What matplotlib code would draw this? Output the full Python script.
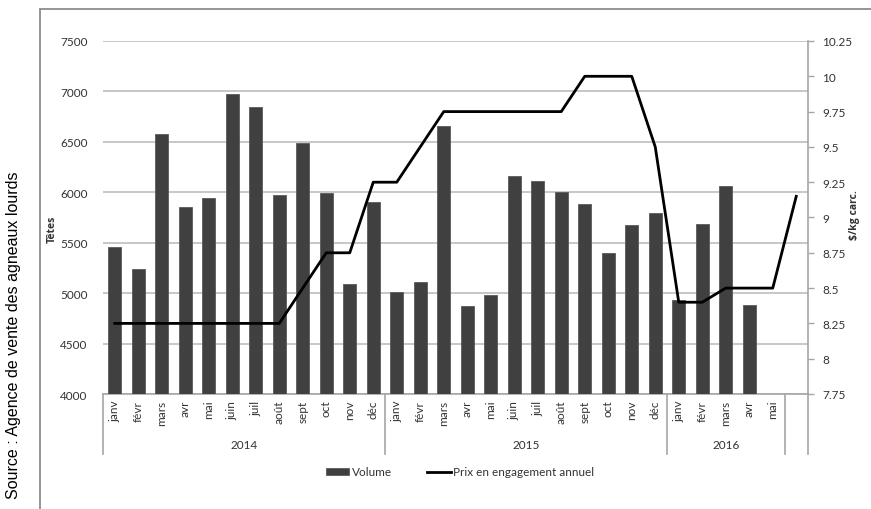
import numpy as np
import matplotlib
matplotlib.use("Agg")
import matplotlib.pyplot as plt
from matplotlib.patches import Rectangle
from matplotlib.transforms import blended_transform_factory

# Données mensuelles (2014 à mai 2016, plus un mois vide en fin d'axe)
mois = ["janv", "févr", "mars", "avr", "mai", "juin", "juil", "août",
        "sept", "oct", "nov", "déc"]
etiquettes = mois + mois + mois[:5] + [""]
annees = ["2014", "2015", "2016"]

volume = [5460, 5240, 6580, 5850, 5940, 6970, 6850, 5970, 6490, 5990, 5095, 5900,
          5015, 5110, 6660, 4875, 4980, 6165, 6110, 6000, 5880, 5395, 5680, 5795,
          4930, 5685, 6065, 4880, np.nan, np.nan]
prix = [8.25, 8.25, 8.25, 8.25, 8.25, 8.25, 8.25, 8.25, 8.5, 8.75, 8.75, 9.25,
        9.25, 9.5, 9.75, 9.75, 9.75, 9.75, 9.75, 9.75, 10.0, 10.0, 10.0, 9.5,
        8.4, 8.4, 8.5, 8.5, 8.5, 9.15]

gris_txt = "#333333"
gris_ax = "#a6a6a6"
police = ["Lato", "DejaVu Sans"]
plt.rcParams["font.family"] = police
taille = 8.5

fig = plt.figure(figsize=(8.71, 5.10), dpi=100)
# cadre du graphique
fig.patches.append(Rectangle((40 / 871, -0.1), 1.2, 1 - 10 / 510 + 0.1,
                             transform=fig.transFigure, fill=False,
                             edgecolor="#8c8c8c", linewidth=1.3))

ax = fig.add_axes([103 / 871, 1 - 395 / 510, 705 / 871, 353 / 510])
x = np.arange(len(etiquettes))
ax.bar(x, volume, width=0.55, color="#404040", edgecolor="#5a5a5a",
       linewidth=0.6, zorder=3, label="Volume")
ax.set_ylim(4000, 7500)
ax.set_xlim(-0.5, len(etiquettes) - 0.5)
ax.set_yticks(np.arange(4000, 7501, 500))
ax.yaxis.grid(True, color="#bdbdbd", linewidth=1.2, zorder=0)
ax.tick_params(axis="y", length=0, pad=11, labelsize=taille, labelcolor=gris_txt)
ax.set_xticks([])
for s in ["top", "left", "right"]:
    ax.spines[s].set_visible(False)
ax.spines["bottom"].set_color(gris_ax)
ax.spines["bottom"].set_linewidth(1.2)
ax.set_ylabel("Têtes", fontsize=7.5, fontweight="bold", color=gris_txt,
              family="Open Sans")
ax.yaxis.set_label_coords(-0.064, 0.47)

ax2 = ax.twinx()
ax2.plot(x, prix, color="black", linewidth=2, zorder=4,
         label="Prix en engagement annuel")
ax2.set_ylim(7.75, 10.25)
ax2.set_yticks(np.arange(7.75, 10.26, 0.25))
ax2.set_yticklabels(["7.75", "8", "8.25", "8.5", "8.75", "9", "9.25", "9.5",
                     "9.75", "10", "10.25"])
ax2.tick_params(axis="y", length=4, width=1, color=gris_ax, pad=6,
                labelsize=taille, labelcolor=gris_txt)
for s in ["top", "left", "bottom"]:
    ax2.spines[s].set_visible(False)
ax2.spines["right"].set_color(gris_ax)
ax2.spines["right"].set_linewidth(1.2)
ax2.set_ylabel("$/kg carc.", fontsize=7.5, fontweight="bold", color=gris_txt,
               family="Open Sans", rotation=90)
ax2.yaxis.set_label_coords(1.058, 0.51)

# axe des catégories: mois puis années
trans = blended_transform_factory(ax.transData, ax.transAxes)
for xi, lab in zip(x, etiquettes):
    ax.text(xi, -0.016, lab, transform=trans, rotation=90, ha="center",
            va="top", fontsize=taille, color=gris_txt)
for xb in [-0.5, 11.5, 23.5, 28.5, 29.5]:
    ax.plot([xb, xb], [0, -0.17], transform=trans, color=gris_ax,
            linewidth=1.2, clip_on=False)
for xc, an in zip([5.5, 17.5, 26.0], annees):
    ax.text(xc, -0.142, an, transform=trans, ha="center", va="center",
            fontsize=taille, color=gris_txt)

h1, l1 = ax.get_legend_handles_labels()
h2, l2 = ax2.get_legend_handles_labels()
fig.legend(h1 + h2, l1 + l2, loc="center", bbox_to_anchor=(460 / 871, 1 - 473 / 510),
           ncol=2, frameon=False, fontsize=taille, handlelength=2.0,
           handleheight=0.6, columnspacing=3.0, handletextpad=0.2,
           labelcolor=gris_txt)

fig.text(14 / 871, 1 - 335 / 510, "Source : Agence de vente des agneaux lourds",
         rotation=90, ha="center", va="center", fontsize=11.5,
         family="Liberation Sans", color="black")

fig.savefig("out.png", dpi=100)
